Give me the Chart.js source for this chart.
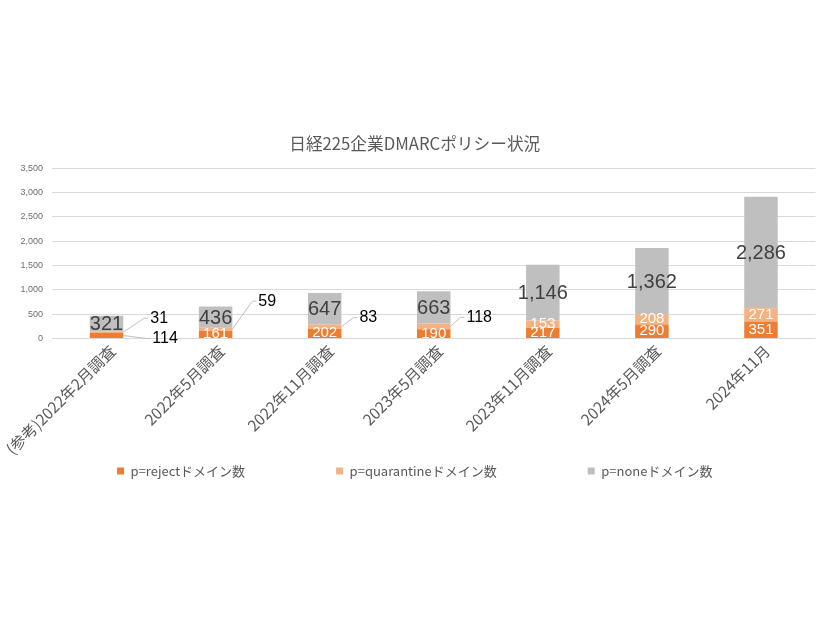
<!DOCTYPE html>
<html><head><meta charset="utf-8">
<script src="https://cdn.jsdelivr.net/npm/chart.js@4/dist/chart.umd.min.js"></script>
<style>html,body{margin:0;padding:0;background:#fff}#wrap{width:826px;height:620px;position:relative}</style>
</head><body><div id="wrap"><canvas id="c" width="826" height="620"></canvas></div>
<script>
const categories = ['(参考)2022年2月調査','2022年5月調査','2022年11月調査','2023年5月調査','2023年11月調査','2024年5月調査','2024年11月'];
const rejectCounts = [114,161,202,190,217,290,351];
const quarantineCounts = [31,59,83,118,153,208,271];
const noneCounts = [321,436,647,663,1146,1362,2286];
const seriesNames = ['p=rejectドメイン数','p=quarantineドメイン数','p=noneドメイン数'];
const yTickValues = [0,500,1000,1500,2000,2500,3000,3500];
const titleText = '日経225企業DMARCポリシー状況';

const CJK = '"Noto Sans CJK JP", "Noto Sans", sans-serif';
const LAT = '"Liberation Sans", Arial, sans-serif';

const valueLabels = {
  id: 'valueLabels',
  afterDatasetsDraw(chart, args, opts) {
    const ctx = chart.ctx, area = chart.chartArea;
    chart.data.datasets.forEach((ds, di) => {
      const meta = chart.getDatasetMeta(di);
      const st = opts.styles[di];
      meta.data.forEach((bar, i) => {
        const v = ds.data[i];
        const txt = v.toLocaleString('en-US');
        const p = bar.getProps(['x','y','base','width'], true);
        const cy = (p.y + p.base) / 2;
        const right = p.x + p.width / 2;
        const co = (opts.callouts[di] || {})[i];
        ctx.save();
        if (co) {
          const tx = right + co[0], ty = cy + co[1];
          ctx.strokeStyle = opts.leaderColor; ctx.lineWidth = 1;
          ctx.beginPath(); ctx.moveTo(right, cy); ctx.lineTo(tx - 6, ty); ctx.lineTo(tx - 2, ty); ctx.stroke();
          ctx.font = opts.calloutFont; ctx.fillStyle = opts.calloutColor;
          ctx.textAlign = 'left'; ctx.textBaseline = 'middle';
          ctx.fillText(txt, tx, ty);
        } else {
          ctx.beginPath(); ctx.rect(area.left, area.top, area.right - area.left, area.bottom - area.top); ctx.clip();
          ctx.font = st.font; ctx.fillStyle = st.color;
          ctx.textAlign = 'center'; ctx.textBaseline = 'middle';
          ctx.fillText(txt, p.x, cy + (st.dy || 0));
        }
        ctx.restore();
      });
    });
  }
};

// lets the rotated category labels extend below the thin x-axis box (into the legend's top padding)
const xLabelRoom = {
  id: 'xLabelRoom',
  afterLayout(chart, args, opts) {
    const x = chart.scales.x;
    x.bottom = x.top + opts.height;
  }
};

new Chart(document.getElementById('c'), {
  type: 'bar',
  data: {
    labels: categories,
    datasets: [
      { label: seriesNames[0], data: rejectCounts, backgroundColor: '#ED7D31' },
      { label: seriesNames[1], data: quarantineCounts, backgroundColor: '#F4B183' },
      { label: seriesNames[2], data: noneCounts, backgroundColor: '#BFBFBF' }
    ]
  },
  options: {
    responsive: false,
    animation: false,
    devicePixelRatio: 1,
    layout: { padding: { top: 124, bottom: 132.5, left: 14, right: 10.5 } },
    datasets: { bar: { categoryPercentage: 1, barPercentage: 0.307, borderWidth: 0 } },
    scales: {
      x: {
        stacked: true,
        grid: { display: false, drawTicks: false },
        border: { display: false },
        ticks: { autoSkip: false, minRotation: 45, maxRotation: 45, padding: 3, labelOffset: 6, color: '#595959', font: { family: CJK, size: 15.5 } },
        afterFit(s) { s.height = 35; s.paddingLeft = 0; s.paddingRight = 0; }
      },
      y: {
        stacked: true,
        min: 0, max: 3500,
        afterBuildTicks(s) { s.ticks = yTickValues.map(v => ({ value: v })); },
        grid: { color: '#D9D9D9', lineWidth: 1, drawTicks: false },
        border: { display: false },
        ticks: { padding: 9, color: '#6E6E6E', font: { family: LAT, size: 9 }, callback: v => Number(v).toLocaleString('en-US') },
        afterFit(s) { s.width = 38; }
      }
    },
    plugins: {
      title: { display: true, text: titleText, color: '#595959', font: { family: CJK, size: 16.7, weight: 'normal' }, padding: { top: 10, bottom: 14 } },
      legend: {
        display: true, position: 'bottom',
        labels: { boxWidth: 7, boxHeight: 7, padding: 91, color: '#595959', font: { family: CJK, size: 13 } }
      },
      tooltip: { enabled: false },
      xLabelRoom: { height: 130 },
      valueLabels: {
        styles: [
          { font: '15px ' + LAT, color: '#FFFFFF' },
          { font: '15px ' + LAT, color: '#FFFFFF' },
          { font: '20px ' + LAT, color: '#404040', dy: 1 }
        ],
        callouts: { 0: { 0: [29, 3] }, 1: { 0: [27, -14], 1: [26, -28], 2: [18, -9], 3: [16, -9] } },
        leaderColor: '#BFBFBF',
        calloutFont: '16px ' + LAT,
        calloutColor: '#000000'
      }
    }
  },
  plugins: [valueLabels, xLabelRoom]
});
</script></body></html>
